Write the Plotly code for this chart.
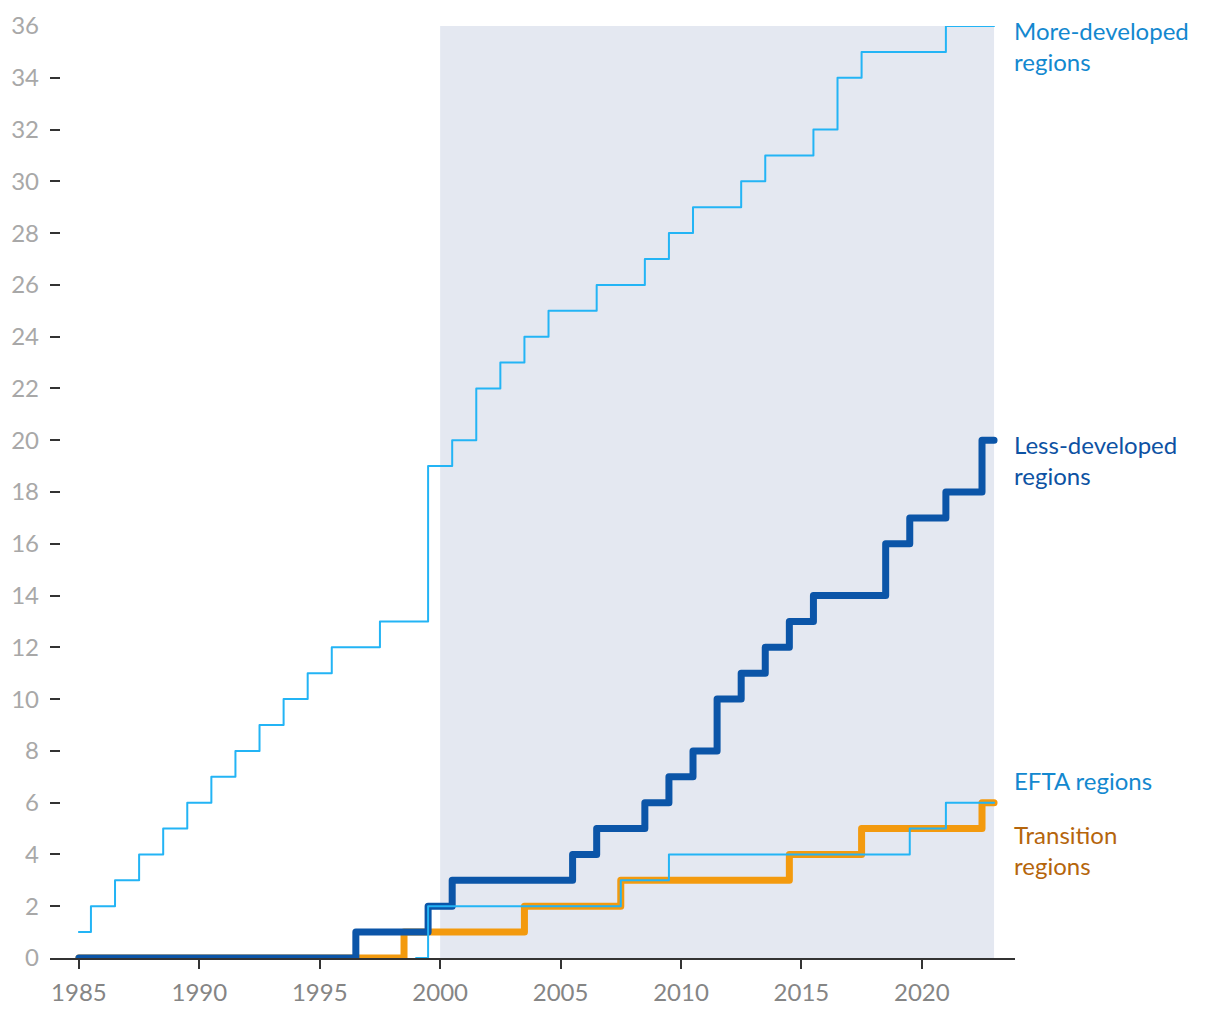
import plotly.graph_objects as go

# ---- data ----
years = list(range(1985, 2021)) + [2022, 2023]

more_developed = [1, 2, 3, 4, 5, 6, 7, 8, 9, 10, 11, 12, 12, 13, 13,
                  19, 20, 22, 23, 24, 25, 25, 26, 26, 27, 28, 29, 29, 30, 31,
                  31, 32, 34, 35, 35, 35, 36, 36]
less_developed = [0, 0, 0, 0, 0, 0, 0, 0, 0, 0, 0, 0, 1, 1, 1,
                  2, 3, 3, 3, 3, 3, 4, 5, 5, 6, 7, 8, 10, 11, 12,
                  13, 14, 14, 14, 16, 17, 18, 20]
transition = [0, 0, 0, 0, 0, 0, 0, 0, 0, 0, 0, 0, 0, 0, 1,
              1, 1, 1, 1, 2, 2, 2, 2, 3, 3, 3, 3, 3, 3, 3,
              4, 4, 4, 5, 5, 5, 5, 6]
efta = [None, None, None, None, None, None, None, None, None, None, None, None, None, None, 0,
        2, 2, 2, 2, 2, 2, 2, 2, 3, 3, 4, 4, 4, 4, 4,
        4, 4, 4, 4, 4, 5, 6, 6]

series_names = ["More-developed<br>regions", "Less-developed<br>regions",
                "EFTA regions", "Transition<br>regions"]
label_y = [35.24, 19.24, 6.84, 4.19]

shade_start, shade_end = 2000, 2023
y_ticks = list(range(0, 37, 2))
x_ticks = list(range(1985, 2021, 5))

LIGHT = "#23b4f5"
DARK = "#0b55a8"
ORANGE = "#f39a0e"
FONT = "Lato, 'Open Sans', sans-serif"

fig = go.Figure()

fig.add_shape(type="rect", xref="x", yref="y", x0=shade_start, x1=shade_end,
              y0=0, y1=36, fillcolor="#e4e8f1", line_width=0, layer="below")

fig.add_trace(go.Scatter(x=years, y=transition, mode="lines", line_shape="hvh",
                         line=dict(color=ORANGE, width=7), cliponaxis=False,
                         hoverinfo="skip", showlegend=False))
fig.add_trace(go.Scatter(x=years, y=less_developed, mode="lines", line_shape="hvh",
                         line=dict(color=DARK, width=7), cliponaxis=False,
                         hoverinfo="skip", showlegend=False))
fig.add_trace(go.Scatter(x=years, y=efta, mode="lines", line_shape="hvh",
                         line=dict(color=LIGHT, width=2), cliponaxis=False,
                         hoverinfo="skip", showlegend=False))
fig.add_trace(go.Scatter(x=years, y=more_developed, mode="lines", line_shape="hvh",
                         line=dict(color=LIGHT, width=2), cliponaxis=False,
                         hoverinfo="skip", showlegend=False))

label_colors = ["#1388cf", "#0d52a3", "#1388cf", "#b5650c"]
for name, yv, col in zip(series_names, label_y, label_colors):
    fig.add_annotation(x=1, xref="paper", y=yv, yref="y", text=name,
                       showarrow=False, xanchor="left", yanchor="middle",
                       align="left", xshift=-3,
                       font=dict(family=FONT, size=24, color=col))

fig.update_layout(
    width=1220, height=1020,
    margin=dict(l=42, r=213, t=18, b=70, autoexpand=False),
    paper_bgcolor="white", plot_bgcolor="white",
    font=dict(family=FONT),
    xaxis=dict(range=[1983.8, 2023.87], tickvals=x_ticks, ticks="outside",
               ticklen=9, tickwidth=2, tickcolor="#333333", automargin=False,
               showline=True, linecolor="#333333", linewidth=2,
               showgrid=False, zeroline=False, ticklabelstandoff=3,
               tickfont=dict(family=FONT, size=24, color="#858585")),
    yaxis=dict(range=[0, 36], tickvals=y_ticks, ticks="inside",
               ticklen=10, tickwidth=2, tickcolor="#333333", automargin=False,
               showline=False, showgrid=False, zeroline=False,
               ticklabelstandoff=10,
               tickfont=dict(family=FONT, size=24, color="#a8a8a8")),
)

post = """
document.querySelectorAll('.scatterlayer path.js-line').forEach(function(p){
  p.style.strokeLinecap='round'; p.style.strokeLinejoin='round';
});
"""
fig.write_html("out.html", post_script=post)
